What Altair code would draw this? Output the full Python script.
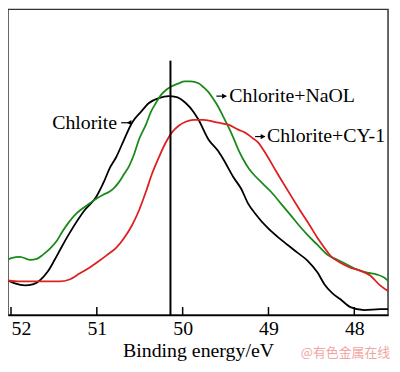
import altair as alt
import pandas as pd

W, H = 383, 308

# Binding energy (eV) and intensity (arbitrary units)
black_ev = [52.035, 51.954, 51.838, 51.746, 51.665, 51.572, 51.491, 51.410, 51.318, 51.145,
            51.006, 50.913, 50.855, 50.775, 50.682, 50.590, 50.486, 50.393, 50.277, 50.162,
            50.069, 49.965, 49.873, 49.815, 49.699, 49.584, 49.526, 49.410, 49.318, 49.237,
            49.156, 49.006, 48.890, 48.775, 48.659, 48.543, 48.428, 48.347, 48.254, 48.162,
            48.046, 47.884, 47.699, 47.526]
black_int = [39, 36, 34, 35, 39, 48, 60, 73, 87, 110,
             124, 140, 152, 164, 182, 199, 210, 219, 224, 226,
             225, 219, 210, 202, 182, 170, 162, 144, 132, 117,
             107, 92, 83, 75, 67, 59, 47, 35, 26, 20,
             12, 9, 10, 10]

green_ev = [52.035, 51.988, 51.896, 51.780, 51.699, 51.630, 51.549, 51.468, 51.399, 51.318,
            51.237, 51.168, 51.087, 51.006, 50.925, 50.855, 50.798, 50.740, 50.682, 50.624,
            50.566, 50.509, 50.428, 50.370, 50.312, 50.254, 50.197, 50.127, 50.046, 49.977,
            49.908, 49.815, 49.757, 49.699, 49.642, 49.584, 49.526, 49.468, 49.410, 49.353,
            49.295, 49.225, 49.156, 49.064, 48.971, 48.855, 48.740, 48.636, 48.543, 48.428,
            48.312, 48.197, 48.081, 47.965, 47.850, 47.734, 47.653, 47.584, 47.526]
green_int = [60, 62, 63, 60, 61, 65, 71, 79, 89, 99,
             107, 112, 117, 122, 126, 129, 133, 139, 147, 155,
             167, 182, 197, 210, 219, 227, 232, 236, 239, 241,
             241, 239, 235, 230, 223, 215, 205, 195, 184, 172,
             162, 152, 145, 137, 129, 117, 105, 94, 85, 75,
             65, 60, 55, 50, 47, 45, 42, 37, 32]

red_ev = [52.035, 51.896, 51.665, 51.434, 51.318, 51.202, 51.087, 50.971, 50.879, 50.775,
          50.682, 50.590, 50.509, 50.428, 50.358, 50.277, 50.197, 50.127, 50.046, 49.965,
          49.873, 49.757, 49.584, 49.468, 49.353, 49.272, 49.179, 49.121, 49.064, 49.006,
          48.913, 48.809, 48.717, 48.624, 48.520, 48.428, 48.347, 48.277, 48.162, 48.046,
          47.931, 47.815, 47.699, 47.618, 47.526]
red_int = [39, 38, 38, 38, 40, 46, 52, 59, 65, 72,
           82, 95, 110, 129, 147, 164, 179, 189, 196, 200,
           202, 202, 199, 197, 192, 189, 183, 179, 172, 164,
           150, 135, 122, 109, 95, 82, 72, 64, 57, 52,
           49, 44, 34, 29, 27]

series = ["Chlorite", "Chlorite+NaOL", "Chlorite+CY-1"]
colors = ["#000000", "#1a8a1a", "#dd2020"]

tick_values = [52, 51, 50, 49, 48]
marker_ev = [50.142]
marker_top = [262]

label_text = ["Chlorite", "Chlorite+NaOL", "Chlorite+CY-1"]
label_ev = [50.763, 49.457, 49.017]
label_int = [199, 226, 185]
label_side = ["right", "left", "left"]

arrow_start = [50.717, 49.607, 49.156]
arrow_end = [50.613, 49.491, 49.040]
arrow_tip_ev = [50.624, 49.514, 49.064]
arrow_dir = ["left", "right", "right"]

watermark = "@有色金属在线"

rows = []
for name, evs, ints in [(series[0], black_ev, black_int),
                        (series[1], green_ev, green_int),
                        (series[2], red_ev, red_int)]:
    for i, (e, v) in enumerate(zip(evs, ints)):
        rows.append({"series": name, "ev": e, "intensity": v, "order": i})
df = pd.DataFrame(rows)

xscale = alt.Scale(domain=[52.035, 47.607], nice=False, zero=False)
yscale = alt.Scale(domain=[4, 314], nice=False, zero=False)

FONT = "Liberation Serif"

lines = alt.Chart(df).mark_line(strokeWidth=1.8, interpolate="monotone", clip=True).encode(
    x=alt.X("ev:Q", scale=xscale,
            axis=alt.Axis(values=tick_values, format="d", title="Binding energy/eV",
                          ticks=False, grid=False, labelFlush=5, labelPadding=4,
                          titlePadding=2)),
    y=alt.Y("intensity:Q", scale=yscale, axis=None),
    color=alt.Color("series:N", scale=alt.Scale(domain=series, range=colors), legend=None),
    order="order:Q",
    detail="series:N",
)

marker_df = pd.DataFrame({"ev": marker_ev, "top": marker_top})
marker = alt.Chart(marker_df).mark_rule(color="black", strokeWidth=2).encode(
    x=alt.X("ev:Q", scale=xscale), y=alt.Y("top:Q", scale=yscale), y2=alt.value(H))

ticks_df = pd.DataFrame({"ev": tick_values})
ticks = alt.Chart(ticks_df).mark_rule(color="black", strokeWidth=1.5).encode(
    x=alt.X("ev:Q", scale=xscale), y=alt.value(H), y2=alt.value(H - 8))

lab_df = pd.DataFrame({"text": label_text, "ev": label_ev, "intensity": label_int, "side": label_side})
text_right = alt.Chart(lab_df).transform_filter(alt.datum.side == "right").mark_text(
    align="right", baseline="middle", font=FONT, fontSize=20, color="black").encode(
    x=alt.X("ev:Q", scale=xscale), y=alt.Y("intensity:Q", scale=yscale), text="text:N")
text_left = alt.Chart(lab_df).transform_filter(alt.datum.side == "left").mark_text(
    align="left", baseline="middle", font=FONT, fontSize=20, color="black").encode(
    x=alt.X("ev:Q", scale=xscale), y=alt.Y("intensity:Q", scale=yscale), text="text:N")

arr_df = pd.DataFrame({"s": arrow_start, "e": arrow_end, "tip": arrow_tip_ev,
                       "intensity": label_int, "dir": arrow_dir})
shafts = alt.Chart(arr_df).mark_rule(color="black", strokeWidth=1.2).encode(
    x=alt.X("s:Q", scale=xscale), x2="e:Q", y=alt.Y("intensity:Q", scale=yscale))
heads = alt.Chart(arr_df).mark_point(filled=True, color="black", size=28, opacity=1).encode(
    x=alt.X("tip:Q", scale=xscale), y=alt.Y("intensity:Q", scale=yscale),
    shape=alt.Shape("dir:N", scale=alt.Scale(domain=["left", "right"],
                                             range=["triangle-left", "triangle-right"]),
                    legend=None))

wm = alt.Chart(pd.DataFrame({"t": [watermark]})).mark_text(
    align="left", baseline="middle", font="Noto Sans CJK SC", fontSize=13, color="#f2a4a4").encode(
    x=alt.value(295), y=alt.value(H + 38), text="t:N")

chart = alt.layer(lines, marker, ticks, shafts, heads, text_right, text_left, wm).properties(
    width=W, height=H, padding={"left": 0, "top": 0, "right": 1, "bottom": 0}
).configure_view(stroke="#333333", strokeWidth=1.5).configure_axis(
    labelFont=FONT, titleFont=FONT, labelFontSize=20, titleFontSize=20,
    labelColor="black", titleColor="black", titleFontWeight="normal",
    domainColor="black", domainWidth=1.5)

chart.save("out.html", embed_options={"renderer": "svg", "actions": False})
